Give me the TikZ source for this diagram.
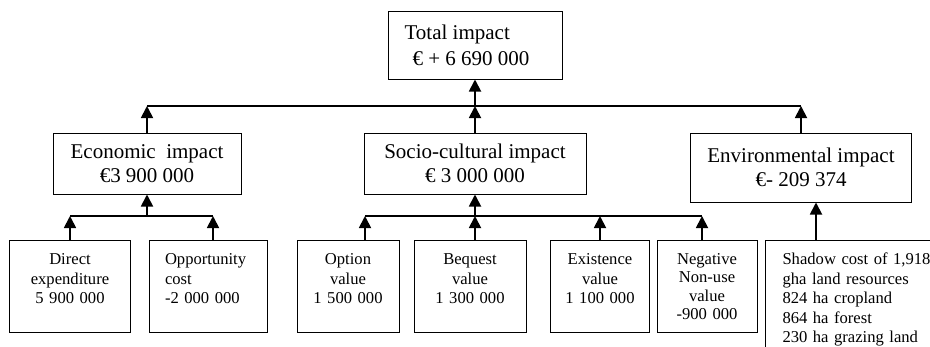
\documentclass[tikz,border=0pt]{standalone}
\usepackage{fontspec}
\setmainfont{Liberation Serif}
\usetikzlibrary{arrows.meta,calc}
\newcommand{\bigfont}{\fontsize{21}{24.5}\selectfont}
\newcommand{\smallfont}{\fontsize{16.6}{19.5}\selectfont}

\begin{document}
\begin{tikzpicture}[x=1pt,y=-1pt,
    bigbox/.style={draw,line width=1pt,font=\bigfont,align=center,inner sep=0pt},
    smallbox/.style={draw,line width=1pt,anchor=north,font=\smallfont,align=center,
      inner xsep=4pt,inner ysep=13pt,text height=11pt,text depth=55pt},
    bus/.style={line width=1.2pt},
    up/.style={line width=1.8pt,-{Triangle[width=12pt,length=12pt]}}]
    \useasboundingbox (0,0) rectangle (930,346);
    \clip (0,0) rectangle (930,346);
    % levels
    \node[bigbox,minimum width=174pt,minimum height=68pt,align=left,
      font=\fontsize{21}{26}\selectfont] (tot) at (475,45)
      {Total impact\\\hspace*{8pt}€ + 6 690 000\hspace*{16pt}};
    \node[bigbox,minimum width=188pt,minimum height=61pt] (eco) at (147,163.5)
      {Economic\ \ impact\\€3 900 000};
    \node[bigbox,minimum width=222pt,minimum height=61pt] (soc) at (475,163.5)
      {Socio-cultural impact\\€ 3 000 000};
    \node[bigbox,minimum width=221pt,minimum height=69pt] (env) at (801,167.5)
      {Environmental impact\\€- 209 374};
    % items
    \node[smallbox,text width=113pt] (dir) at (70,240) {Direct\\expenditure\\5 900 000};
    \node[smallbox,text width=86pt,inner xsep=16pt,align=left] (opp) at (208,240)
      {Opportunity\\cost\\-2 000 000};
    \node[smallbox,text width=94pt] (opt) at (348,240) {Option\\value\\1 500 000};
    \node[smallbox,text width=104pt] (beq) at (470,240) {Bequest\\value\\1 300 000};
    \node[smallbox,text width=91pt] (exi) at (600,240) {Existence\\value\\1 100 000};
    \node[smallbox,text width=92pt,font=\fontsize{16.6}{18.3}\selectfont]
      (neg) at (707,240) {Negative\\Non-use\\value\\-900 000};
    \node[smallbox,anchor=north west,text width=170pt,inner xsep=17pt,align=left,
      text depth=110pt] (shd) at (765,240)
      {Shadow cost of 1,918\\gha land resources\\824 ha cropland\\864 ha forest\\230 ha grazing land};
    % connectors
    \coordinate (topbus) at (475,106);
    \coordinate (ecobus) at (147,216);
    \coordinate (socbus) at (475,216);
    \coordinate (oppfoot) at ($(opp.north)+(5,0)$);
    \coordinate (optfoot) at ($(opt.north)+(17,0)$);
    \coordinate (beqfoot) at ($(beq.north)+(5,0)$);
    \coordinate (negfoot) at ($(neg.north)+(-5,0)$);
    \coordinate (shdfoot) at ($(shd.north west)+(51,0)$);
    \draw[bus] (eco.north |- topbus) -- (env.north |- topbus);
    \draw[up] (eco.north) -- (eco.north |- topbus);
    \draw[up] (soc.north) -- (topbus);
    \draw[up] (env.north) -- (env.north |- topbus);
    \draw[up] (topbus) -- (tot.south);
    \draw[bus] (dir.north |- ecobus) -- (oppfoot |- ecobus);
    \draw[up] (dir.north) -- (dir.north |- ecobus);
    \draw[up] (oppfoot) -- (oppfoot |- ecobus);
    \draw[up] (ecobus) -- (eco.south);
    \draw[bus] (optfoot |- socbus) -- (negfoot |- socbus);
    \draw[up] (optfoot) -- (optfoot |- socbus);
    \draw[up] (beqfoot) -- (beqfoot |- socbus);
    \draw[up] (exi.north) -- (exi.north |- socbus);
    \draw[up] (negfoot) -- (negfoot |- socbus);
    \draw[up] (socbus) -- (soc.south);
    \draw[up] (shdfoot) -- (shdfoot |- env.south);
  \end{tikzpicture}
\end{document}
